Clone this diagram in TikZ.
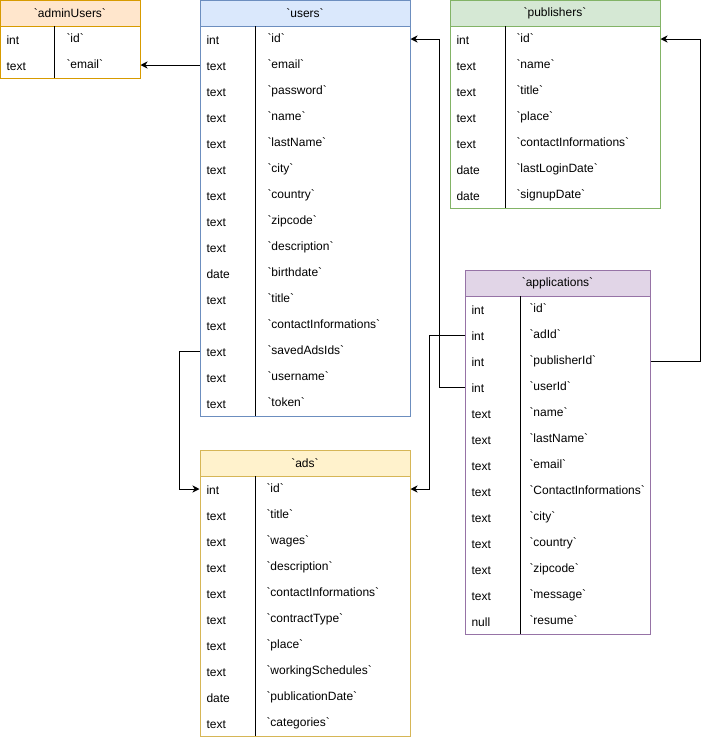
\documentclass[tikz,border=0pt]{standalone}
\usepackage{fontspec}
\setmainfont{Liberation Sans}
\usepackage{tikz}
\usetikzlibrary{arrows.meta}

\definecolor{adminfill}{HTML}{FFE6CC}
\definecolor{adminline}{HTML}{D79B00}
\definecolor{usersfill}{HTML}{DAE8FC}
\definecolor{usersline}{HTML}{6C8EBF}
\definecolor{pubsfill}{HTML}{D5E8D4}
\definecolor{pubsline}{HTML}{82B366}
\definecolor{appsfill}{HTML}{E1D5E7}
\definecolor{appsline}{HTML}{9673A6}
\definecolor{adsfill}{HTML}{FFF2CC}
\definecolor{adsline}{HTML}{D6B656}
\newcommand{\bq}{\textasciigrave}

\begin{document}
\begin{tikzpicture}[x=0.75pt,y=-0.75pt,line width=0.75pt]
  \tikzset{tablehead/.style = {draw,minimum width=#1*0.75pt,minimum height=19.5pt,inner sep=0,
      font=\fontsize{9}{10}\selectfont}}
  \tikzset{entry/.style = {minimum width=#1*0.75pt,minimum height=19.5pt,inner sep=0}}
  \tikzset{coltype/.style = {anchor=base west,inner sep=0,font=\fontsize{9}{10}\selectfont}}
  \tikzset{colname/.style = {anchor=base west,inner sep=0,font=\fontsize{9}{10}\selectfont}}
  \tikzset{fk/.style = {-{Stealth[length=5.3pt,width=5.3pt,inset=1.6pt]}}}

  \useasboundingbox (0,0) rectangle (709,740);

  % adminUsers
  \node[tablehead=140,fill=adminfill,draw=adminline] (admin) at (70,13) {\bq adminUsers\bq};
  \draw[adminline] (0,26) rectangle (140,78);
  \draw (54,26) -- (54,78);
  \foreach \t/\f [count=\i from 0] in {int/id,text/email}
  {
    \node[entry=140] (admin-\i) at (70,39+26*\i) {};
    \node[coltype] at (6,44+26*\i) {\t};
    \node[colname] at (66,42+26*\i) {\bq\f\bq};
  }

  % users
  \node[tablehead=210,fill=usersfill,draw=usersline] (users) at (305,13) {\bq users\bq};
  \draw[usersline] (200,26) rectangle (410,416);
  \draw (255,26) -- (255,416);
  \foreach \t/\f [count=\i from 0] in {int/id,text/email,text/password,text/name,text/lastName,
      text/city,text/country,text/zipcode,text/description,date/birthdate,text/title,
      text/contactInformations,text/savedAdsIds,text/username,text/token}
  {
    \node[entry=210] (users-\i) at (305,39+26*\i) {};
    \node[coltype] at (206,44+26*\i) {\t};
    \node[colname] at (267,42+26*\i) {\bq\f\bq};
  }

  % publishers
  \node[tablehead=210,fill=pubsfill,draw=pubsline] (pubs) at (555,13) {\bq publishers\bq};
  \draw[pubsline] (450,26) rectangle (660,208);
  \draw (505,26) -- (505,208);
  \foreach \t/\f [count=\i from 0] in {int/id,text/name,text/title,text/place,
      text/contactInformations,date/lastLoginDate,date/signupDate}
  {
    \node[entry=210] (pubs-\i) at (555,39+26*\i) {};
    \node[coltype] at (456,44+26*\i) {\t};
    \node[colname] at (516,42+26*\i) {\bq\f\bq};
  }

  % applications
  \node[tablehead=185,fill=appsfill,draw=appsline] (apps) at (557.5,283) {\bq applications\bq};
  \draw[appsline] (465,296) rectangle (650,634);
  \draw (520,296) -- (520,634);
  \foreach \t/\f [count=\i from 0] in {int/id,int/adId,int/publisherId,int/userId,text/name,
      text/lastName,text/email,text/ContactInformations,text/city,text/country,text/zipcode,
      text/message,null/resume}
  {
    \node[entry=185] (apps-\i) at (557.5,309+26*\i) {};
    \node[coltype] at (471,314+26*\i) {\t};
    \node[colname] at (529,312+26*\i) {\bq\f\bq};
  }

  % ads
  \node[tablehead=210,fill=adsfill,draw=adsline] (ads) at (305,463) {\bq ads\bq};
  \draw[adsline] (200,476) rectangle (410,736);
  \draw (255,476) -- (255,736);
  \foreach \t/\f [count=\i from 0] in {int/id,text/title,text/wages,text/description,
      text/contactInformations,text/contractType,text/place,text/workingSchedules,
      date/publicationDate,text/categories}
  {
    \node[entry=210] (ads-\i) at (305,489+26*\i) {};
    \node[coltype] at (206,494+26*\i) {\t};
    \node[colname] at (266,492+26*\i) {\bq\f\bq};
  }

  \draw[fk] (users-1.west) -- (admin-1.east);
  \draw[fk] (apps-3.west) -- ++(-25,0) |- (users-0.east);
  \draw[fk] (apps-1.west) -- ++(-35,0) |- (ads-0.east);
  \draw[fk] (apps-2.east) -- ++(50,0) |- (pubs-0.east);
  \draw[fk] (users-12.west) -- ++(-20,0) |- (ads-0.west);
\end{tikzpicture}
\end{document}
